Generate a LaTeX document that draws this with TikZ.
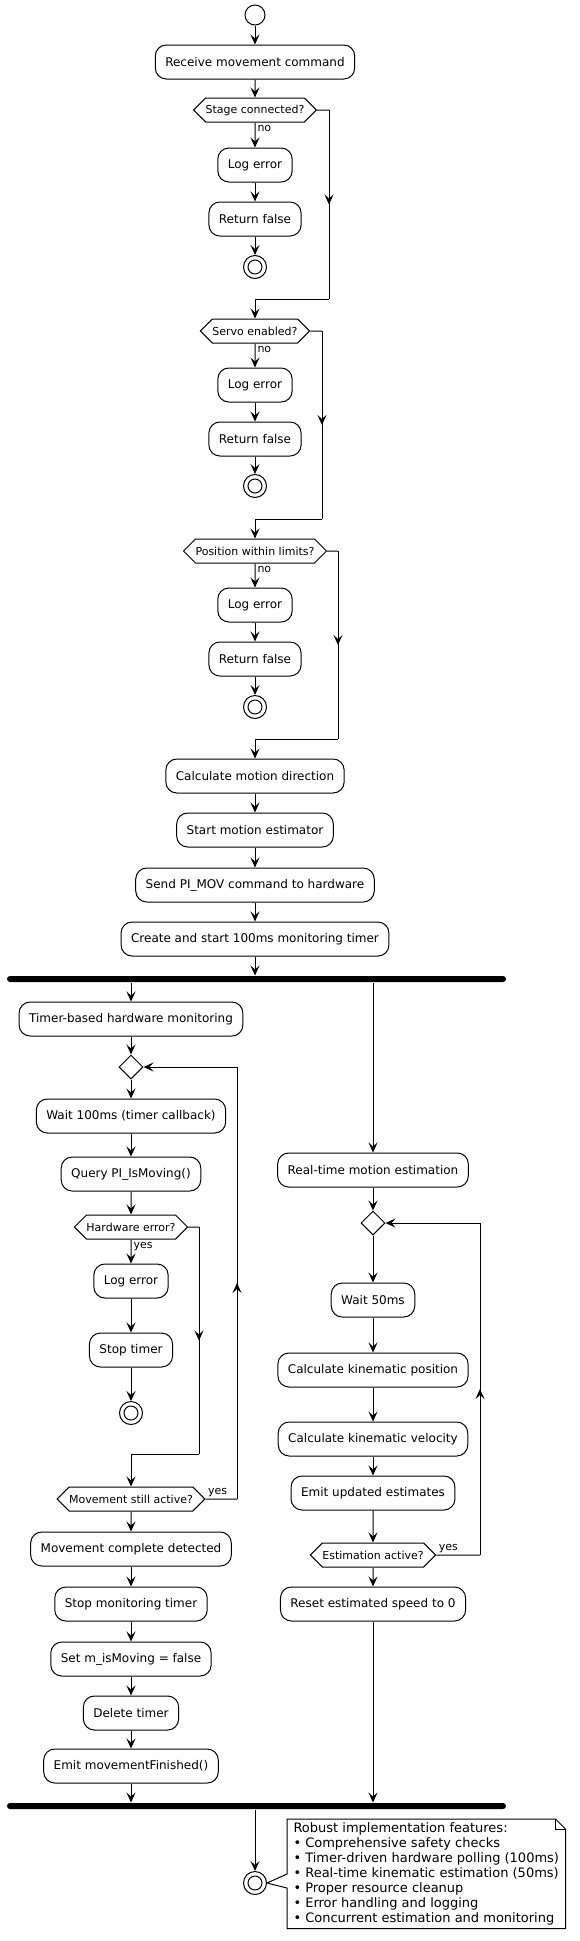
\documentclass[tikz,border=0pt]{standalone}
\usepackage{fontspec}
\setmainfont{DejaVu Sans}
\usetikzlibrary{shapes.geometric,shapes.symbols,arrows.meta,decorations.markings}

\tikzset{
	action/.style={draw, rounded corners=11pt, minimum height=34pt, inner xsep=10pt, inner ysep=0pt},
	decision/.style={draw, shape=signal, signal to=east and west, signal pointer angle=90, minimum height=24pt, inner xsep=0pt, inner ysep=0pt, font=\fontsize{11}{13}\selectfont},
	loopnode/.style={draw, diamond, minimum size=24pt, inner sep=0pt},
	startnode/.style={draw, circle, minimum size=20pt, inner sep=0pt},
	stopnode/.style={draw, circle, minimum size=23pt, inner sep=0pt, path picture={\draw (path picture bounding box.center) circle (7pt);}},
	forkbar/.style={fill, rounded corners=3pt, minimum width=499pt, minimum height=6pt, inner sep=0pt},
	notebox/.style={align=left, inner xsep=6pt, inner ysep=3pt, font=\fontsize{13}{15}\selectfont},
	lbl/.style={pos=0, anchor=north west, inner sep=2pt, font=\fontsize{11}{13}\selectfont},
	arr/.style={-{Stealth[length=10pt,width=9pt,inset=4pt]}},
	midarrow/.style={postaction={decorate}, decoration={markings, mark=at position .5 with {\arrow{Stealth[length=10pt,width=9pt,inset=4pt]}}}}
}

\begin{document}
\begin{tikzpicture}[x=1pt, y=-1pt, line width=1pt, font=\fontsize{12}{14}\selectfont]
	\useasboundingbox (0,0) rectangle (580,1941);
	%checks
	\node[startnode] (start)     at (255,15)    {};
	\node[action]    (receive)   at (255,62)    {Receive movement command};
	\node[decision]  (stage)     at (255,110)   {Stage connected?};
	\node[action]    (err1)      at (255,165)   {Log error};
	\node[action]    (ret1)      at (255,219)   {Return false};
	\node[stopnode]  (stop1)     at (255,267)   {};
	\node[decision]  (servo)     at (255,331)   {Servo enabled?};
	\node[action]    (err2)      at (255,385)   {Log error};
	\node[action]    (ret2)      at (255,439)   {Return false};
	\node[stopnode]  (stop2)     at (255,486)   {};
	\node[decision]  (limits)    at (255,551)   {Position within limits?};
	\node[action]    (err3)      at (255,605)   {Log error};
	\node[action]    (ret3)      at (255,659)   {Return false};
	\node[stopnode]  (stop3)     at (255,707)   {};
	\node[action]    (direction) at (255,776)   {Calculate motion direction};
	\node[action]    (estimator) at (255,830)   {Start motion estimator};
	\node[action]    (sendmov)   at (255,885)   {Send PI\_MOV command to hardware};
	\node[action]    (timer)     at (255,939)   {Create and start 100ms monitoring timer};
	\node[forkbar]   (fork)      at (256.5,979) {};
	%monitoring
	\node[action]    (monitor)   at (131,1019)  {Timer-based hardware monitoring};
	\node[loopnode]  (loop1)     at (131,1067)  {};
	\node[action]    (wait100)   at (131,1116)  {Wait 100ms (timer callback)};
	\node[action]    (query)     at (131,1174)  {Query PI\_IsMoving()};
	\node[decision]  (hwerr)     at (131,1227)  {Hardware error?};
	\node[action]    (err4)      at (131,1281)  {Log error};
	\node[action]    (stoptimer) at (131,1350)  {Stop timer};
	\node[stopnode]  (stop4)     at (131,1413)  {};
	\node[decision]  (active)    at (131,1499)  {Movement still active?};
	\node[action]    (complete)  at (131,1549)  {Movement complete detected};
	\node[action]    (stopmon)   at (131,1604)  {Stop monitoring timer};
	\node[action]    (setmov)    at (131,1659)  {Set m\_isMoving = false};
	\node[action]    (deltimer)  at (131,1713)  {Delete timer};
	\node[action]    (emitfin)   at (131,1766)  {Emit movementFinished()};
	%estimation
	\node[action]    (realtime)  at (373,1170)  {Real-time motion estimation};
	\node[loopnode]  (loop2)     at (373,1223)  {};
	\node[action]    (wait50)    at (373,1300)  {Wait 50ms};
	\node[action]    (kinpos)    at (373,1370)  {Calculate kinematic position};
	\node[action]    (kinvel)    at (373,1439)  {Calculate kinematic velocity};
	\node[action]    (emitest)   at (373,1493)  {Emit updated estimates};
	\node[decision]  (estactive) at (373,1555)  {Estimation active?};
	\node[action]    (reset)     at (373,1604)  {Reset estimated speed to 0};
	\node[forkbar]   (join)      at (256.5,1806) {};
	\node[stopnode]  (stopall)   at (255,1883)  {};
	\node[notebox, anchor=north west] (note) at (287,1819) {Robust implementation features:\\
		• Comprehensive safety checks\\
		• Timer-driven hardware polling (100ms)\\
		• Real-time kinematic estimation (50ms)\\
		• Proper resource cleanup\\
		• Error handling and logging\\
		• Concurrent estimation and monitoring};

	\coordinate (k1) at (329,110);  \coordinate (j1) at (329,299);
	\coordinate (k2) at (322,331);  \coordinate (j2) at (322,519);
	\coordinate (k3) at (338,551);  \coordinate (j3) at (338,739);
	\coordinate (k4) at (199,1227); \coordinate (j4) at (199,1454);
	\coordinate (k5) at (237,1499); \coordinate (j5) at (237,1067);
	\coordinate (k6) at (480,1555); \coordinate (j6) at (480,1223);

	\draw[arr] (start) -- (receive);
	\draw[arr] (receive) -- (stage);
	\draw[arr] (stage) -- node[lbl]{no} (err1);
	\draw[arr] (err1) -- (ret1);
	\draw[arr] (ret1) -- (stop1);
	\draw (stage) -- (k1);  \draw[midarrow] (k1) -- (j1);  \draw[arr] (j1) -| (servo);
	\draw[arr] (servo) -- node[lbl]{no} (err2);
	\draw[arr] (err2) -- (ret2);
	\draw[arr] (ret2) -- (stop2);
	\draw (servo) -- (k2);  \draw[midarrow] (k2) -- (j2);  \draw[arr] (j2) -| (limits);
	\draw[arr] (limits) -- node[lbl]{no} (err3);
	\draw[arr] (err3) -- (ret3);
	\draw[arr] (ret3) -- (stop3);
	\draw (limits) -- (k3); \draw[midarrow] (k3) -- (j3);  \draw[arr] (j3) -| (direction);
	\draw[arr] (direction) -- (estimator);
	\draw[arr] (estimator) -- (sendmov);
	\draw[arr] (sendmov) -- (timer);
	\draw[arr] (timer) -- (fork.north -| timer);
	%left
	\draw[arr] (fork.south -| monitor) -- (monitor);
	\draw[arr] (monitor) -- (loop1);
	\draw[arr] (loop1) -- (wait100);
	\draw[arr] (wait100) -- (query);
	\draw[arr] (query) -- (hwerr);
	\draw[arr] (hwerr) -- node[lbl]{yes} (err4);
	\draw[arr] (err4) -- (stoptimer);
	\draw[arr] (stoptimer) -- (stop4);
	\draw (hwerr) -- (k4);  \draw[midarrow] (k4) -- (j4);  \draw[arr] (j4) -| (active);
	\draw (active) -- node[lbl, anchor=south west]{yes} (k5);
	\draw[midarrow] (k5) -- (j5);  \draw[arr] (j5) -- (loop1);
	\draw[arr] (active) -- (complete);
	\draw[arr] (complete) -- (stopmon);
	\draw[arr] (stopmon) -- (setmov);
	\draw[arr] (setmov) -- (deltimer);
	\draw[arr] (deltimer) -- (emitfin);
	\draw[arr] (emitfin) -- (join.north -| emitfin);
	%right
	\draw[arr] (fork.south -| realtime) -- (realtime);
	\draw[arr] (realtime) -- (loop2);
	\draw[arr] (loop2) -- (wait50);
	\draw[arr] (wait50) -- (kinpos);
	\draw[arr] (kinpos) -- (kinvel);
	\draw[arr] (kinvel) -- (emitest);
	\draw[arr] (emitest) -- (estactive);
	\draw (estactive) -- node[lbl, anchor=south west]{yes} (k6);
	\draw[midarrow] (k6) -- (j6);  \draw[arr] (j6) -- (loop2);
	\draw[arr] (estactive) -- (reset);
	\draw[arr] (reset) -- (join.north -| reset);
	\draw[arr] (join.south -| stopall) -- (stopall);
	%note
	\draw (note.north west) -- ([yshift=-55pt]note.north west) -- (stopall.east) -- ([yshift=-69pt]note.north west) -- (note.south west) -- (note.south east) -- ([yshift=-10pt]note.north east) -- ([xshift=-10pt]note.north east) -- cycle;
	\draw ([xshift=-10pt]note.north east) -- ++(0,10) -- ([yshift=-10pt]note.north east);
\end{tikzpicture}
\end{document}
